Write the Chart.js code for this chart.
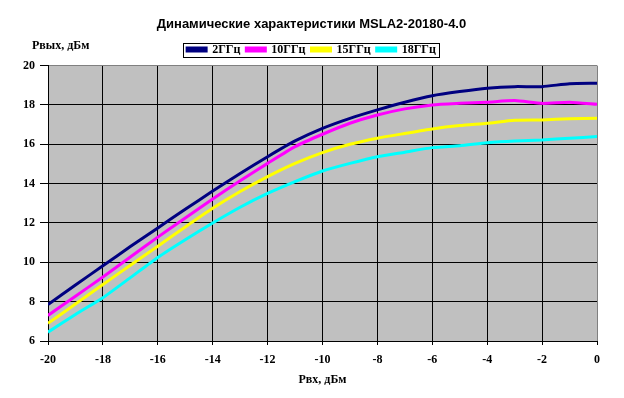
<!DOCTYPE html>
<html>
<head>
<meta charset="utf-8">
<script src="https://cdn.jsdelivr.net/npm/chart.js@4"></script>
<style>
  html, body { margin: 0; padding: 0; background: #fff; }
  #wrap { width: 624px; height: 398px; }
</style>
</head>
<body>
<div id="wrap"><canvas id="dataGraph" width="624" height="398"></canvas></div>
<script>
// входная мощность, дБм
const pIn = [-20, -19, -18, -17, -16, -15, -14, -13, -12, -11, -10, -9, -8, -7, -6, -5, -4, -3, -2, -1, 0];
const seriesNames = ['2ГГц', '10ГГц', '15ГГц', '18ГГц'];
// выходная мощность, дБм
const p2 = [7.85, 8.85, 9.82, 10.8, 11.75, 12.7, 13.62, 14.52, 15.37, 16.17, 16.81, 17.32, 17.75, 18.14, 18.47, 18.68, 18.85, 18.93, 18.93, 19.08, 19.1];
const p10 = [7.3, 8.28, 9.25, 10.27, 11.28, 12.25, 13.22, 14.15, 15.03, 15.88, 16.51, 17.07, 17.49, 17.8, 18.0, 18.08, 18.14, 18.22, 18.08, 18.14, 18.03];
const p15 = [6.9, 7.88, 8.87, 9.85, 10.82, 11.8, 12.75, 13.6, 14.36, 15.03, 15.58, 16.0, 16.31, 16.55, 16.78, 16.95, 17.07, 17.22, 17.24, 17.3, 17.32];
const p18 = [6.45, 7.35, 8.2, 9.22, 10.25, 11.15, 12.0, 12.8, 13.5, 14.1, 14.64, 15.03, 15.37, 15.6, 15.83, 15.93, 16.08, 16.17, 16.22, 16.31, 16.39];
const colors = ['#000080', '#FF00FF', '#FFFF00', '#00FFFF'];

const serif = "'Liberation Serif', 'Times New Roman', serif";

function pts(ys) {
    return pIn.map((x, i) => ({ x: x, y: ys[i] }));
}

const plotBg = {
    id: 'plotBg',
    beforeDraw(chart) {
        const a = chart.chartArea;
        const ctx = chart.ctx;
        ctx.save();
        ctx.fillStyle = '#C0C0C0';
        ctx.fillRect(a.left, a.top, a.right - a.left, a.bottom - a.top);
        ctx.restore();
    },
    afterDraw(chart) {
        const ctx = chart.ctx;
        // рамка легенды
        const boxes = chart.legend.legendHitBoxes;
        if (boxes && boxes.length) {
            const l = Math.min(...boxes.map(b => b.left)) - 4;
            const r = Math.max(...boxes.map(b => b.left + b.width)) + 3;
            const mid = boxes[0].top + boxes[0].height / 2;
            ctx.save();
            ctx.strokeStyle = '#000';
            ctx.lineWidth = 1;
            ctx.strokeRect(Math.round(l) + 0.5, Math.round(mid - 7) + 0.5, Math.round(r - l), 14);
            ctx.restore();
        }
        // подпись оси Y
        ctx.save();
        ctx.font = 'bold 12px ' + serif;
        ctx.fillStyle = '#000';
        ctx.textBaseline = 'middle';
        ctx.fillText('Рвых, дБм', 32, 46);
        ctx.restore();
    }
};

window.onload = function() {
    const ctx = document.getElementById('dataGraph').getContext('2d');
    new Chart(ctx, {
        type: 'line',
        data: {
            datasets: [p2, p10, p15, p18].map((d, i) => ({
                label: seriesNames[i],
                data: pts(d),
                borderColor: colors[i],
                backgroundColor: colors[i],
                borderWidth: 3,
                pointRadius: 0,
                tension: 0.2
            }))
        },
        options: {
            responsive: false,
            animation: false,
            layout: { padding: { top: 8, right: 14, left: 13, bottom: 0 } },
            plugins: {
                title: {
                    display: true,
                    text: 'Динамические характеристики MSLA2-20180-4.0',
                    color: '#000',
                    font: { family: "'Liberation Sans', Arial, sans-serif", size: 13, weight: 'bold' },
                    padding: { top: 9, bottom: 5 }
                },
                legend: {
                    labels: {
                        color: '#000',
                        font: { family: serif, size: 12, weight: 'bold' },
                        boxWidth: 19,
                        boxHeight: 3,
                        padding: 6
                    }
                },
                tooltip: { enabled: false }
            },
            scales: {
                x: {
                    type: 'linear',
                    min: -20,
                    max: 0,
                    afterFit(s) { s.height = 57; },
                    ticks: {
                        stepSize: 2,
                        color: '#000',
                        font: { family: serif, size: 12, weight: 'bold' },
                        padding: 8,
                        maxRotation: 0
                    },
                    grid: {
                        color: c => c.tick && c.tick.value === 0 ? '#808080' : '#000',
                        tickColor: '#000',
                        tickLength: 4
                    },
                    border: { color: '#000' },
                    title: {
                        display: true,
                        text: 'Рвх, дБм',
                        color: '#000',
                        font: { family: serif, size: 12, weight: 'bold' },
                        padding: { top: 0, bottom: 11 }
                    }
                },
                y: {
                    min: 6,
                    max: 20,
                    afterFit(s) { s.width = 35; },
                    ticks: {
                        stepSize: 2,
                        color: '#000',
                        font: { family: serif, size: 12, weight: 'bold' },
                        padding: 5
                    },
                    grid: {
                        color: c => c.tick && c.tick.value === 20 ? '#808080' : '#000',
                        tickColor: '#000',
                        tickLength: 8
                    },
                    border: { color: '#000' }
                },
                // пустая правая ось, чтобы заголовок был по центру листа
                yR: {
                    position: 'right',
                    min: 6,
                    max: 20,
                    afterFit(s) { s.width = 13; },
                    ticks: { display: false },
                    grid: { display: false },
                    border: { display: false }
                }
            }
        },
        plugins: [plotBg]
    });
};
</script>
</body>
</html>
